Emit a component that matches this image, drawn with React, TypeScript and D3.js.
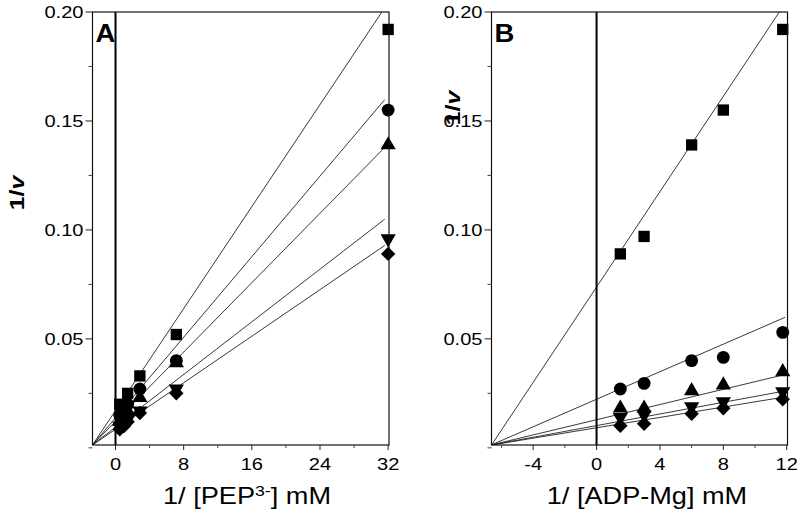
import React from 'react';
import * as d3 from 'd3';

// Panel A: 1/[PEP3-]
const pepX = [0.5, 1, 1.43, 2.86, 7.14, 32];
const pepSquare = [0.020, 0.019, 0.025, 0.033, 0.052, 0.192];
const pepCircle = [0.015, 0.016, 0.020, 0.027, 0.040, 0.155];
const pepTriangle = [0.012, 0.014, 0.017, 0.023, 0.039, 0.139];
const pepDown = [0.010, 0.011, 0.013, 0.017, 0.027, 0.096];
const pepDiamond = [0.0085, 0.010, 0.012, 0.016, 0.025, 0.089];
const pepSlopes = [0.00585, 0.00462, 0.00398, 0.00302, 0.00267];
const pepIntercepts = [0.0171, 0.0138, 0.0121, 0.0095, 0.0085];
const pepFitEnd = 31.6;

// Panel B: 1/[ADP-Mg]
const adpX = [1.5, 3, 6, 8, 11.75];
const adpSquare = [0.089, 0.097, 0.139, 0.155, 0.192];
const adpCircle = [0.027, 0.0296, 0.040, 0.0415, 0.053];
const adpTriangle = [0.0182, 0.0182, 0.0262, 0.0288, 0.0349];
const adpDown = [0.014, 0.0151, 0.0189, 0.0212, 0.0258];
const adpDiamond = [0.0101, 0.011, 0.0156, 0.0182, 0.0223];
const adpSlopes = [0.01094, 0.00316, 0.001745, 0.001337, 0.00119];
const adpIntercepts = [0.0738, 0.0223, 0.0129, 0.0102, 0.0092];
const adpFitEnd = 11.9;

const yMajor = [0.05, 0.1, 0.15, 0.2];
const yMinor = [0, 0.025, 0.075, 0.125, 0.175];
const pepMajor = [0, 8, 16, 24, 32];
const pepMinor = [4, 12, 20, 28];
const adpMajor = [-4, 0, 4, 8, 12];
const adpMinor = [-6, -2, 2, 6, 10];

const markerKinds = ['square', 'circle', 'triangle', 'down', 'diamond'];

const FONT = '"Liberation Sans", Arial, sans-serif';
const SX = 1.18;

function markerPath(kind: string) {
  if (kind === 'square') return d3.symbol(d3.symbolSquare, 128)();
  if (kind === 'circle') return d3.symbol(d3.symbolCircle, 130)();
  if (kind === 'triangle') return d3.symbol(d3.symbolTriangle, 100)();
  if (kind === 'down') return d3.symbol(d3.symbolTriangle, 100)();
  return d3.symbol(d3.symbolSquare, 104)();
}
function markerRot(kind: string) {
  if (kind === 'down') return 180;
  if (kind === 'diamond') return 45;
  return 0;
}

type PanelProps = {
  id: string;
  left: number;
  right: number;
  xDomain: [number, number];
  xs: number[];
  series: number[][];
  slopes: number[];
  intercepts: number[];
  fitEnd: number;
  major: number[];
  minor: number[];
  letter: string;
  title: React.ReactNode;
  titleX: number;
  yTitleX: number;
  yTitleY: number;
};

const TOP = 12;
const BOTTOM = 445;

function Panel(p: PanelProps) {
  const x = d3.scaleLinear().domain(p.xDomain).range([p.left, p.right]);
  const y = d3.scaleLinear().domain([0.0013, 0.2]).range([BOTTOM, TOP]);
  const line = d3
    .line<[number, number]>()
    .x((d) => x(d[0]))
    .y((d) => y(d[1]));
  const clipId = 'clip' + p.id;
  return (
    <g>
      <defs>
        <clipPath id={clipId}>
          <rect x={p.left} y={TOP} width={p.right - p.left} height={BOTTOM - TOP} />
        </clipPath>
      </defs>
      <g clipPath={`url(#${clipId})`}>
        {p.slopes.map((s, i) => {
          const b = p.intercepts[i];
          const x0 = p.xDomain[0];
          const pts: [number, number][] = [
            [x0, b + s * x0],
            [p.fitEnd, b + s * p.fitEnd],
          ];
          return (
            <path key={i} d={line(pts) || ''} fill="none" stroke="#222" strokeWidth={0.9} />
          );
        })}
      </g>
      <line x1={x(0)} x2={x(0)} y1={TOP} y2={BOTTOM} stroke="#000" strokeWidth={2} />
      {p.series.map((vals, si) =>
        vals.map((v, i) => (
          <path
            key={si + '-' + i}
            d={markerPath(markerKinds[si]) || ''}
            transform={`translate(${x(p.xs[i])},${y(v)}) rotate(${markerRot(markerKinds[si])})`}
            fill="#000"
          />
        ))
      )}
      <rect x={p.left} y={TOP} width={p.right - p.left} height={BOTTOM - TOP} fill="none" stroke="#111" strokeWidth={1.2} />
      {yMajor.map((t) => (
        <g key={'ym' + t}>
          <line x1={p.left - 7} x2={p.left} y1={y(t)} y2={y(t)} stroke="#222" strokeWidth={1} />
          <text
            transform={`translate(${p.left - 9},${y(t)}) scale(${SX},1)`}
            dy="0.36em"
            textAnchor="end"
            fontSize={17}
            fontFamily={FONT}
            fill="#000"
          >
            {d3.format('.2f')(t)}
          </text>
        </g>
      ))}
      {yMinor.map((t) => (
        <line key={'yn' + t} x1={p.left - 4} x2={p.left} y1={y(t)} y2={y(t)} stroke="#444" strokeWidth={1} />
      ))}
      {p.major.map((t) => (
        <g key={'xm' + t}>
          <line x1={x(t)} x2={x(t)} y1={BOTTOM} y2={BOTTOM + 5} stroke="#222" strokeWidth={1} />
          <text
            transform={`translate(${x(t)},${BOTTOM + 25}) scale(${SX},1)`}
            textAnchor="middle"
            fontSize={17}
            fontFamily={FONT}
            fill="#000"
          >
            {t}
          </text>
        </g>
      ))}
      {p.minor.map((t) => (
        <line key={'xn' + t} x1={x(t)} x2={x(t)} y1={BOTTOM} y2={BOTTOM + 3} stroke="#444" strokeWidth={1} />
      ))}
      <text
        transform={`translate(${p.left + 3},${TOP + 30}) scale(1.1,1)`}
        fontSize={25}
        fontWeight="bold"
        fontFamily={FONT}
        fill="#000"
      >
        {p.letter}
      </text>
      <text
        transform={`translate(${p.titleX},504) scale(${SX},1)`}
        textAnchor="middle"
        fontSize={23}
        fontFamily={FONT}
        fill="#000"
      >
        {p.title}
      </text>
      <text
        transform={`translate(${p.yTitleX},${p.yTitleY}) rotate(-90) scale(${SX},1)`}
        textAnchor="middle"
        fontSize={21}
        fontWeight="bold"
        fontFamily={FONT}
        fill="#000"
      >
        1/<tspan fontStyle="italic">v</tspan>
      </text>
    </g>
  );
}

export default function App() {
  return (
    <svg
      width={800}
      height={514}
      style={{ position: 'absolute', left: 0, top: 0, background: '#fff' }}
    >
      <rect x={0} y={0} width={800} height={514} fill="#fff" />
      <Panel
        id="A"
        left={92.5}
        right={389}
        xDomain={[-2.7, 32.1]}
        xs={pepX}
        series={[pepSquare, pepCircle, pepTriangle, pepDown, pepDiamond]}
        slopes={pepSlopes}
        intercepts={pepIntercepts}
        fitEnd={pepFitEnd}
        major={pepMajor}
        minor={pepMinor}
        letter="A"
        title={
          <>
            1/ [PEP<tspan fontSize={15} dy={-8}>3-</tspan>
            <tspan dy={8}>] mM</tspan>
          </>
        }
        titleX={247}
        yTitleX={24}
        yTitleY={193}
      />
      <Panel
        id="B"
        left={491.5}
        right={787.5}
        xDomain={[-6.63, 12.05]}
        xs={adpX}
        series={[adpSquare, adpCircle, adpTriangle, adpDown, adpDiamond]}
        slopes={adpSlopes}
        intercepts={adpIntercepts}
        fitEnd={adpFitEnd}
        major={adpMajor}
        minor={adpMinor}
        letter="B"
        title={<>1/ [ADP-Mg] mM</>}
        titleX={647}
        yTitleX={460}
        yTitleY={108}
      />
    </svg>
  );
}
